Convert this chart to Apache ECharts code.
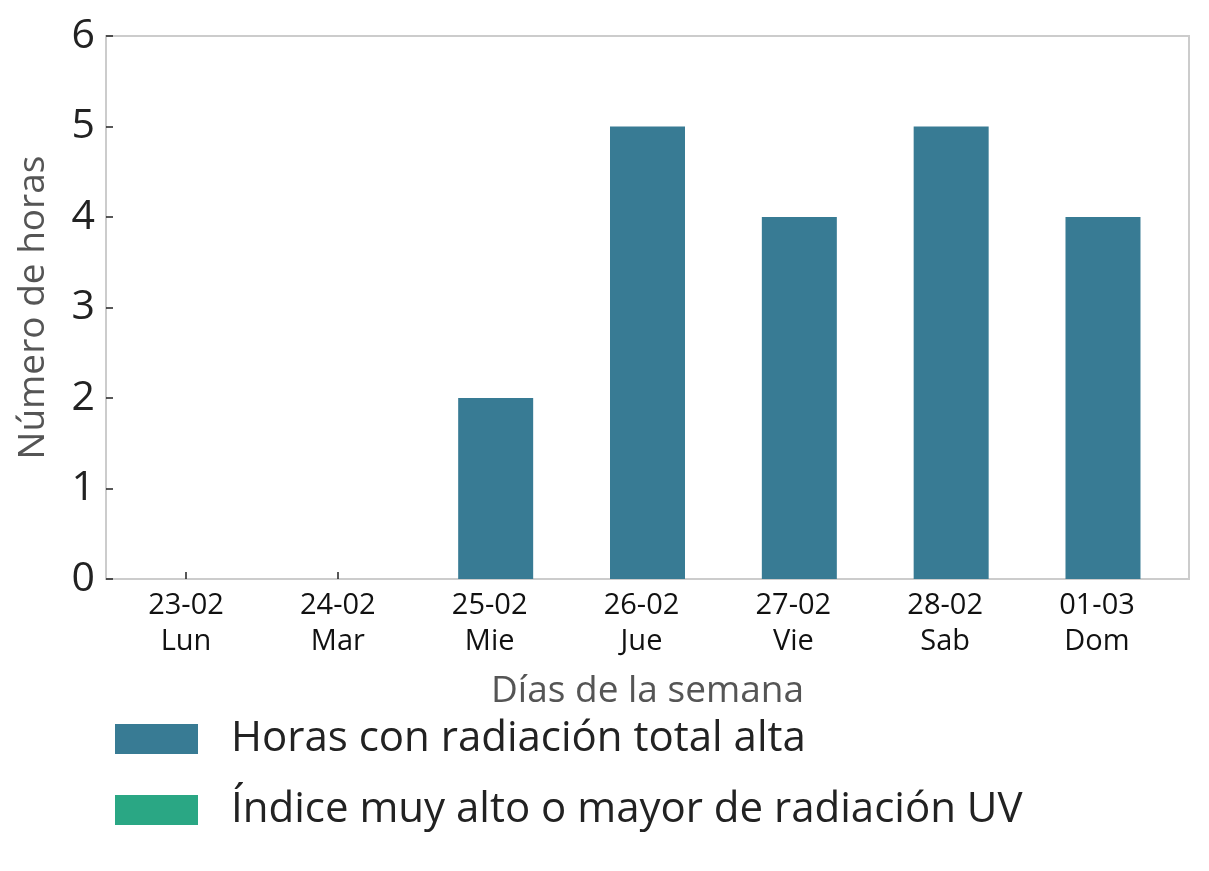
<!DOCTYPE html>
<html>
<head>
<meta charset="utf-8">
<script src="https://cdn.jsdelivr.net/npm/echarts@6/dist/echarts.min.js"></script>
<style>
  html, body { margin: 0; padding: 0; background: #fff; }
  #chart { width: 1209px; height: 871px; }
</style>
</head>
<body>
<div id="chart"></div>
<script>
const dates = ['23-02', '24-02', '25-02', '26-02', '27-02', '28-02', '01-03']
const days = ['Lun', 'Mar', 'Mie', 'Jue', 'Vie', 'Sab', 'Dom']
const radiacionTotal = [0, 0, 2, 5, 4, 5, 4]
const indiceUV = [0, 0, 0, 0, 0, 0, 0]

const font = '"Open Sans", "Noto Sans", sans-serif'
const chart = echarts.init(document.getElementById('chart'))

// bars sit on a value axis so the frame can be wider than the category slots
const toPairs = vals => vals.map((v, i) => [i, v])
const positions = dates.map((_, i) => i)

const option = {
  animation: false,
  textStyle: { fontFamily: font },
  grid: {
    left: 106, right: 20, top: 36, bottom: 292,
    show: true, borderColor: '#cccccc', borderWidth: 2, backgroundColor: 'transparent'
  },
  legend: {
    orient: 'vertical',
    left: 110, top: 713,
    itemWidth: 83, itemHeight: 30, itemGap: 29,
    icon: 'rect',
    textStyle: { fontSize: 42, color: '#222', padding: [0, 0, 0, 28], fontFamily: font },
    data: ['Horas con radiación total alta', 'Índice muy alto o mayor de radiación UV']
  },
  xAxis: {
    type: 'value',
    min: -0.527, max: 6.606,
    name: 'Días de la semana',
    nameLocation: 'middle', nameGap: 94,
    nameTextStyle: { fontSize: 37, color: '#555', fontFamily: font },
    axisLine: { show: false, onZero: false },
    splitLine: { show: false },
    axisTick: { show: true, inside: true, length: 7, customValues: positions, lineStyle: { color: '#222', width: 1.5 } },
    axisLabel: {
      customValues: positions,
      formatter: v => dates[v] + '\n' + days[v],
      fontSize: 29, lineHeight: 36, color: '#111', margin: 9, fontFamily: font
    }
  },
  yAxis: {
    type: 'value',
    min: 0, max: 6, interval: 1,
    name: 'Número de horas',
    nameLocation: 'middle', nameGap: 54,
    nameTextStyle: { fontSize: 37, color: '#555', fontFamily: font },
    axisLine: { show: false, onZero: false },
    splitLine: { show: false },
    axisTick: { show: true, inside: true, length: 7, lineStyle: { color: '#222', width: 1.5 } },
    axisLabel: { fontSize: 41, color: '#222', margin: 11, fontFamily: font }
  },
  series: [
    {
      name: 'Horas con radiación total alta',
      type: 'bar',
      data: toPairs(radiacionTotal),
      barWidth: 75,
      barGap: '-116%',
      itemStyle: { color: '#387b94' }
    },
    {
      name: 'Índice muy alto o mayor de radiación UV',
      type: 'bar',
      data: toPairs(indiceUV),
      barWidth: 75,
      itemStyle: { color: '#2aa784' }
    }
  ]
}

chart.setOption(option)
</script>
</body>
</html>
